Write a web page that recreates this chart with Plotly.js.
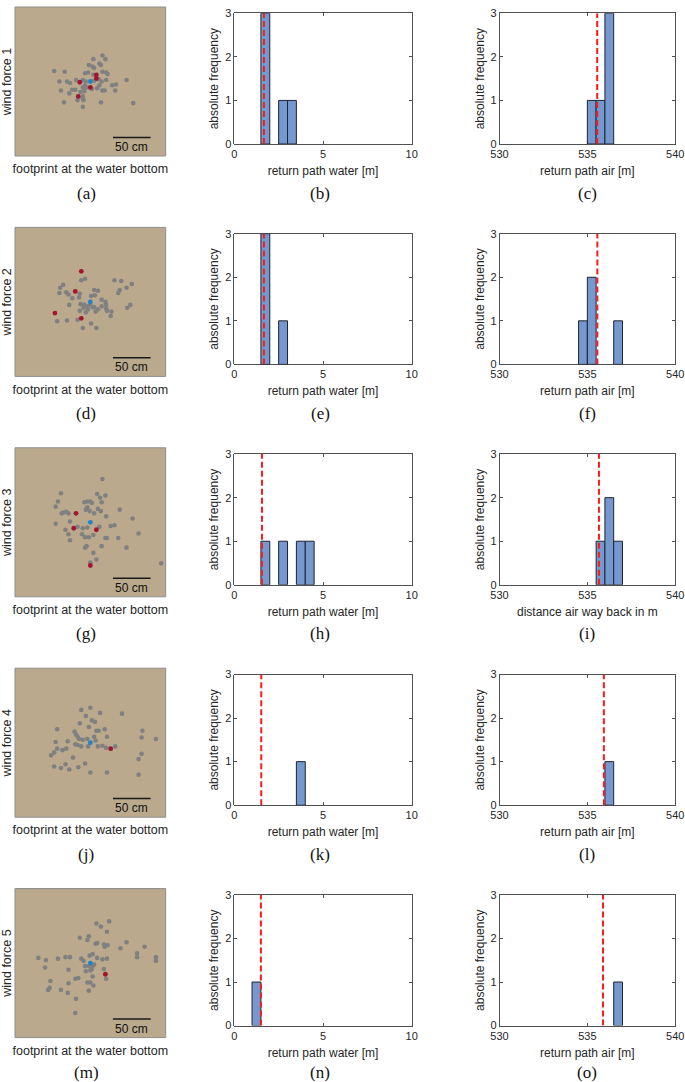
<!DOCTYPE html>
<html><head><meta charset="utf-8">
<script src="https://cdn.plot.ly/plotly-3.0.1.min.js"></script>
<style>html,body{margin:0;padding:0;background:#fff}</style>
</head><body><div id="chart" style="width:685px;height:1082px"></div>
<script>
// ---------- data ----------
const windForces = [1, 2, 3, 4, 5];
const panelLetters = [['(a)','(b)','(c)'],['(d)','(e)','(f)'],['(g)','(h)','(i)'],['(j)','(k)','(l)'],['(m)','(n)','(o)']];
const footprintTitle = 'footprint at the water bottom';
const waterTitle = 'return path water [m]';
const airTitles = ['return path air [m]','return path air [m]','distance air way back in m','return path air [m]','return path air [m]'];
const yTitleHist = 'absolute frequency';
const scaleBarLengthCm = 50;
const scaleBarLabel = '50 cm';

// footprint points (cm, relative to the target centre)
const grayX1 = [16,20,4,-2,3,5,12,14,16,21,23,4,-7,-3,-48,-34,-41,-31,-27,-19,-20,-24,-28,-39,-35,-10,-7,-5,-10,-8,-13,-10,-10,-9,-10,-17,-6,5,11,15,21,12,9,2,16,19,14,29,34,33,48,57];
const grayY1 = [35,30,30,22,20,18,24,22,13,12,10,9,11,12,14,13,0,0,-2,2,-11,-11,-16,-12,-28,2,-5,-8,-8,-13,-14,-20,-23,-25,-34,-25,0,1,3,0,2,-5,-9,-10,-12,-12,-28,-5,-4,-12,2,-29];
const redX1 = [8,8,-14,0,-16];
const redY1 = [9,4,-1,-8,-20];

const grayX2 = [-12,-7,-36,-40,-41,-32,-29,-24,-14,-15,-28,-13,-8,-9,-14,-6,-3,0,3,5,7,10,1,6,5,10,15,20,21,21,15,22,28,27,32,41,48,55,39,37,53,49,-44,-31,-17,-10,1,8,-4];
const grayY2 = [29,31,23,19,12,13,10,5,11,6,-4,-3,-4,-8,-12,-14,-10,-4,-7,-7,-13,-10,8,9,16,15,3,0,-4,-9,-6,-12,-13,-19,29,28,19,24,16,12,-4,-8,-26,-25,-24,-35,-29,-35,-6];
const redX2 = [-12,-20,-47,-12];
const redY2 = [41,14,-15,-22];

const grayX3 = [16,-39,9,13,20,-43,-46,-8,-4,0,2,15,-4,-6,10,-1,5,14,-36,-32,-29,-38,39,21,56,-46,-27,-17,-10,-4,12,27,32,-33,-29,-11,-7,-2,4,20,22,37,64,-27,-5,-7,15,48,4,8,0,94];
const grayY3 = [58,39,38,33,36,28,21,27,28,28,26,27,20,17,18,15,12,15,13,14,12,12,17,8,5,-2,1,-6,-8,-7,-6,-5,-4,-10,-16,-16,-20,-20,-17,-21,-21,-21,-15,-24,-32,-34,-32,-34,-41,-50,-54,-55];
const redX3 = [-19,-22,8,0];
const redY3 = [12,-8,-10,-58];

const grayX4 = [-12,0,13,-6,42,2,6,-14,-2,-44,-21,8,11,19,-19,-17,-15,-10,-4,5,22,-46,-30,-20,-17,-12,-3,7,10,16,21,33,69,68,87,-44,-37,-32,-48,-52,-23,68,64,-48,-39,-33,-28,-16,-7,0,22,64];
const grayY4 = [44,47,40,36,39,30,28,26,21,18,15,16,16,18,11,8,5,4,5,8,8,1,2,-2,-3,-5,-5,3,-5,-4,-7,-5,16,7,5,-8,-10,-8,-13,-17,-20,-15,-22,-32,-34,-29,-36,-33,-28,-40,-40,-43];
const redX4 = [27];
const redY4 = [-8];

const grayX5 = [8,14,25,22,-14,-2,-4,7,9,18,23,19,48,40,72,62,62,87,87,-69,-59,-60,-43,-33,-27,-12,-9,-1,3,9,16,22,-7,-2,3,5,-6,0,2,18,-29,-53,-54,-56,-39,-30,-29,-20,-16,-4,0,4,3,21,-2,-19,-20];
const grayY5 = [53,49,56,42,34,36,31,26,27,25,24,22,28,20,22,13,8,8,3,7,4,-6,6,8,8,6,3,10,12,7,5,6,-4,-4,-4,-2,-11,-10,-8,-8,-9,-24,-33,-36,-36,-40,-27,-21,-20,-26,-26,-30,-18,-21,-37,-48,-67];
const redX5 = [20];
const redY5 = [-15];

const centreX = [0, 0, 0, 0, 0];
const centreY = [0, 0, 0, 0, 0];

// histograms: left edges of 0.5 m bins and counts
const binWidth = 0.5;
const waterBins1 = [1.5, 2.5, 3.0];   const waterCounts1 = [3, 1, 1];
const waterBins2 = [1.5, 2.5];        const waterCounts2 = [3, 1];
const waterBins3 = [1.5, 2.5, 3.5, 4.0]; const waterCounts3 = [1, 1, 1, 1];
const waterBins4 = [3.5];             const waterCounts4 = [1];
const waterBins5 = [1.0];             const waterCounts5 = [1];

const airBins1 = [535.0, 535.5, 536.0]; const airCounts1 = [1, 1, 3];
const airBins2 = [534.5, 535.0, 536.5]; const airCounts2 = [1, 2, 1];
const airBins3 = [535.5, 536.0, 536.5]; const airCounts3 = [1, 2, 1];
const airBins4 = [536.0];               const airCounts4 = [1];
const airBins5 = [536.5];               const airCounts5 = [1];

const waterMean = [1.67, 1.67, 1.56, 1.52, 1.5];
const airMean = [535.56, 535.57, 535.66, 535.94, 535.89];

const waterRange = [0, 10]; const waterTicks = [0, 5, 10];
const airRange = [530, 540]; const airTicks = [530, 535, 540];
const freqRange = [0, 3]; const freqTicks = [0, 1, 2, 3];

// ---------- build ----------
const grayX = [grayX1, grayX2, grayX3, grayX4, grayX5];
const grayY = [grayY1, grayY2, grayY3, grayY4, grayY5];
const redX = [redX1, redX2, redX3, redX4, redX5];
const redY = [redY1, redY2, redY3, redY4, redY5];
const waterBins = [waterBins1, waterBins2, waterBins3, waterBins4, waterBins5];
const waterCounts = [waterCounts1, waterCounts2, waterCounts3, waterCounts4, waterCounts5];
const airBins = [airBins1, airBins2, airBins3, airBins4, airBins5];
const airCounts = [airCounts1, airCounts2, airCounts3, airCounts4, airCounts5];

const W = 685, H = 1082;
const FONT = 'Liberation Sans, Arial, Helvetica, sans-serif';
const SERIF = 'Liberation Serif, DejaVu Serif, serif';
const TXT = '#262626';
const FS = 12;
const TICKFS = 11;
const colPx = [[15, 165.7], [234.3, 411.7], [499.5, 675.2]];
const rowStep = 220.4;
const tan = '#baa98c';

const traces = [];
const layout = {
  width: W, height: H, margin: {l: 0, r: 0, t: 0, b: 0},
  showlegend: false, paper_bgcolor: '#ffffff', plot_bgcolor: 'rgba(0,0,0,0)',
  font: {family: FONT, size: FS, color: TXT},
  shapes: [], annotations: []
};

function ax(i) { return i === 1 ? '' : String(i); }

for (let r = 0; r < 5; r++) {
  const histTop = 13.3 + rowStep * r, histBot = histTop + 130.7;
  const boxTop = 7 + rowStep * r, boxBot = boxTop + 149;
  const capY = Math.min(193 + rowStep * r, 1072);

  // ---- footprint panel ----
  let i = r * 3 + 1, s = ax(i);
  layout['xaxis' + s] = {
    domain: [colPx[0][0] / W, colPx[0][1] / W], anchor: 'y' + s,
    range: [-100, 100], showticklabels: false, ticks: '', showgrid: false, zeroline: false, showline: false,
    fixedrange: true,
    title: {text: footprintTitle, font: {size: 12.5, color: TXT}, standoff: 8}
  };
  layout['yaxis' + s] = {
    domain: [1 - boxBot / H, 1 - boxTop / H], anchor: 'x' + s,
    range: [-100, 100], showticklabels: false, ticks: '', showgrid: false, zeroline: false, showline: false,
    fixedrange: true,
    title: {text: 'wind force ' + windForces[r], font: {size: 12.5, color: TXT}, standoff: 2}
  };
  layout.shapes.push({type: 'rect', xref: 'x' + s + ' domain', yref: 'y' + s + ' domain', x0: 0, x1: 1, y0: 0, y1: 1,
    fillcolor: tan, line: {color: '#8d8d8d', width: 1}, layer: 'below'});
  layout.shapes.push({type: 'line', xref: 'x' + s, yref: 'y' + s, x0: 30, x1: 30 + scaleBarLengthCm, y0: -75, y1: -75,
    line: {color: '#1a1a1a', width: 1.5}});
  layout.annotations.push({xref: 'x' + s, yref: 'y' + s, x: 30 + scaleBarLengthCm / 2, y: -88, text: scaleBarLabel,
    showarrow: false, font: {size: 12, color: '#111111', family: FONT}});
  traces.push({type: 'scatter', mode: 'markers', x: grayX[r], y: grayY[r], xaxis: 'x' + s, yaxis: 'y' + s,
    marker: {color: '#808080', size: 4.6}, hoverinfo: 'skip'});
  traces.push({type: 'scatter', mode: 'markers', x: redX[r], y: redY[r], xaxis: 'x' + s, yaxis: 'y' + s,
    marker: {color: '#a2142f', size: 4.8}, hoverinfo: 'skip'});
  traces.push({type: 'scatter', mode: 'markers', x: [centreX[r]], y: [centreY[r]], xaxis: 'x' + s, yaxis: 'y' + s,
    marker: {color: '#1d84c9', size: 4.8}, hoverinfo: 'skip'});
  layout.annotations.push({xref: 'paper', yref: 'paper', x: 86 / W, y: 1 - capY / H, xanchor: 'center', yanchor: 'middle',
    text: panelLetters[r][0], showarrow: false, font: {family: SERIF, size: 17, color: '#111'}});

  // ---- histograms ----
  const hist = [
    {col: 1, bins: waterBins[r], counts: waterCounts[r], mean: waterMean[r], range: waterRange, ticks: waterTicks, title: waterTitle, capX: 320},
    {col: 2, bins: airBins[r], counts: airCounts[r], mean: airMean[r], range: airRange, ticks: airTicks, title: airTitles[r], capX: 587}
  ];
  hist.forEach(h => {
    const k = r * 3 + 1 + h.col, t = ax(k);
    const common = {showline: true, linecolor: TXT, linewidth: 0.8, mirror: 'ticks', ticks: 'inside', ticklen: 3,
      tickcolor: TXT, tickwidth: 0.8, showgrid: false, zeroline: false, fixedrange: true,
      ticklabeloverflow: 'allow', tickfont: {size: TICKFS, color: TXT}};
    layout['xaxis' + t] = Object.assign({}, common, {
      domain: [colPx[h.col][0] / W, colPx[h.col][1] / W], anchor: 'y' + t,
      range: h.range, tickvals: h.ticks, ticktext: h.ticks.map(String),
      title: {text: h.title, font: {size: FS, color: TXT}, standoff: 7}
    });
    layout['yaxis' + t] = Object.assign({}, common, {
      domain: [1 - histBot / H, 1 - histTop / H], anchor: 'x' + t,
      range: freqRange, tickvals: freqTicks, ticktext: freqTicks.map(String),
      title: {text: yTitleHist, font: {size: FS, color: TXT}, standoff: 3}
    });
    traces.push({type: 'bar', x: h.bins, y: h.counts, width: binWidth, offset: 0, xaxis: 'x' + t, yaxis: 'y' + t,
      marker: {color: '#7598cf', line: {color: '#1e2430', width: 1}}, hoverinfo: 'skip'});
    traces.push({type: 'scatter', mode: 'lines', x: [h.mean, h.mean], y: freqRange.slice(), xaxis: 'x' + t, yaxis: 'y' + t,
      line: {color: '#ff1a1a', width: 2, dash: '6px,3px'}, hoverinfo: 'skip'});
    layout.annotations.push({xref: 'paper', yref: 'paper', x: h.capX / W, y: 1 - capY / H, xanchor: 'center', yanchor: 'middle',
      text: panelLetters[r][h.col], showarrow: false, font: {family: SERIF, size: 17, color: '#111'}});
  });
}

Plotly.newPlot('chart', traces, layout, {displayModeBar: false, staticPlot: true});
</script>
</body></html>
